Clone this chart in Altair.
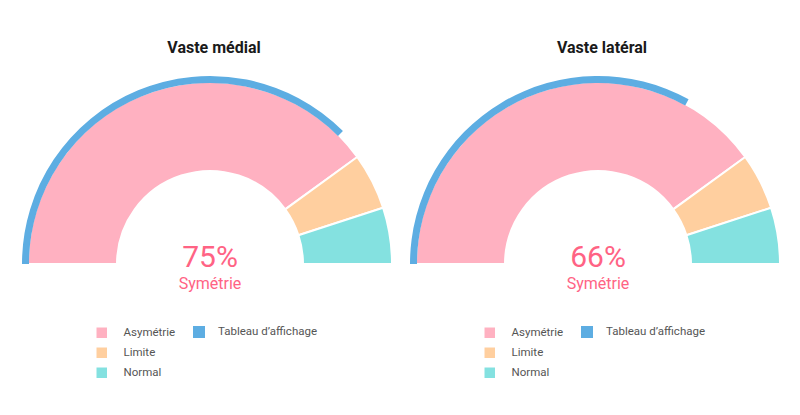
import math
import altair as alt
import pandas as pd

# ---- data ----
titles = ["Vaste médial", "Vaste latéral"]
scores = [75, 66]
score_labels = ["75%", "66%"]
subtitle = "Symétrie"
zones = ["Asymétrie", "Limite", "Normal"]
zone_values = [80, 10, 10]
zone_colors = ["#ffb1c1", "#ffcf9f", "#84e1e0"]
board_label = "Tableau d’affichage"
board_color = "#5dade2"

FONT = "Roboto"
CX, CY = 202, 256
PW, PH = 385, 390


def panel(i):
    theta_scale = alt.Scale(domain=[0, 100], range=[-math.pi / 2, math.pi / 2])
    zdf = pd.DataFrame({"zone": zones, "value": zone_values, "ord": list(range(len(zones)))})
    donut = alt.Chart(zdf).mark_arc(stroke="white", strokeWidth=2).encode(
        theta=alt.Theta("value:Q", stack=True, scale=theta_scale),
        color=alt.Color(
            "zone:N",
            scale=alt.Scale(domain=zones, range=zone_colors),
            legend=alt.Legend(
                orient="none", legendX=88, legendY=319, title=None,
                symbolType="square", symbolSize=110, symbolStrokeWidth=0,
                symbolOpacity=1, labelFont=FONT, labelFontSize=11.5,
                labelColor="#555555", labelOffset=16, rowPadding=7, padding=0,
            ),
        ),
        order=alt.Order("ord:Q"),
        radius=alt.value(182),
        radius2=alt.value(93),
        x=alt.value(CX),
        y=alt.value(CY),
    )
    bdf = pd.DataFrame({"serie": [board_label], "value": [scores[i]]})
    board = alt.Chart(bdf).mark_arc().encode(
        theta=alt.Theta("value:Q", stack=True, scale=theta_scale),
        color=alt.Color(
            "serie:N",
            scale=alt.Scale(domain=[board_label], range=[board_color]),
            legend=alt.Legend(
                orient="none", legendX=185, legendY=318, title=None,
                symbolType="square", symbolSize=144, symbolStrokeWidth=0,
                symbolOpacity=1, labelFont=FONT, labelFontSize=11.5,
                labelColor="#555555", labelOffset=13, padding=0,
            ),
        ),
        radius=alt.value(188),
        radius2=alt.value(181),
        x=alt.value(CX),
        y=alt.value(CY),
    )
    title = alt.Chart(pd.DataFrame({"t": [titles[i]]})).mark_text(
        font=FONT, fontSize=16, fontWeight="bold", color="#1a1a1a", baseline="alphabetic"
    ).encode(text="t:N", x=alt.value(206), y=alt.value(45))
    pct = alt.Chart(pd.DataFrame({"t": [score_labels[i]]})).mark_text(
        font=FONT, fontSize=30, color="#ff6384", baseline="alphabetic"
    ).encode(text="t:N", x=alt.value(CX), y=alt.value(259))
    sub = alt.Chart(pd.DataFrame({"t": [subtitle]})).mark_text(
        font=FONT, fontSize=16, fontWeight="normal", color="#ff6384", baseline="alphabetic"
    ).encode(text="t:N", x=alt.value(CX), y=alt.value(281))
    return (
        alt.layer(donut, board, title, pct, sub)
        .resolve_scale(color="independent")
        .properties(width=PW, height=PH)
    )


chart = (
    alt.hconcat(panel(0), panel(1), spacing=0)
    .resolve_scale(color="independent")
    .properties(padding=0)
    .configure_view(stroke=None)
)

chart.save("out.html", embed_options={"renderer": "svg", "actions": False})
